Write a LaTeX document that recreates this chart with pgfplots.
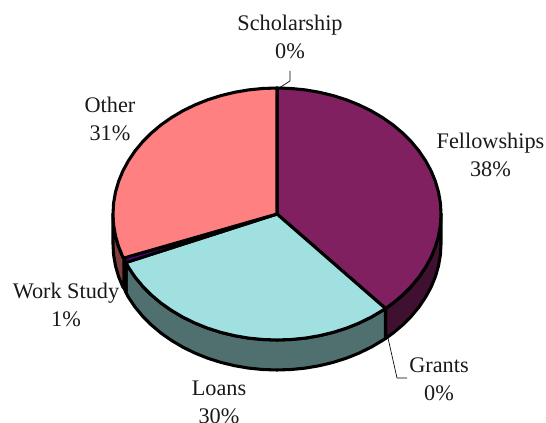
\documentclass[border=0pt]{standalone}
\usepackage{pgfplots}
\pgfplotsset{compat=1.18}
\usepackage{fontspec}
\setmainfont{Liberation Serif}
\definecolor{fel}{HTML}{802060}
\definecolor{felS}{HTML}{401030}
\definecolor{oth}{HTML}{FF8080}
\definecolor{othS}{HTML}{804040}
\definecolor{loa}{HTML}{A0E0E0}
\definecolor{loaS}{HTML}{507070}
\definecolor{wor}{HTML}{660099}
\definecolor{worS}{HTML}{330050}
\tikzset{lab/.style={font=\fontsize{16.7}{21}\selectfont,align=center,text=black!90}}
\begin{document}
\begin{tikzpicture}
\clip (0,0) rectangle (409.5pt,317.25pt);
\begin{axis}[
  at={(0,0)},anchor=south west,
  scale only axis,width=409.5pt,height=317.25pt,
  xmin=0,xmax=546,ymin=0,ymax=423,y dir=reverse,
  axis lines=none,clip=false,
  every axis plot/.append style={line width=2.3pt,draw=black,line join=round}
]
% side walls
\addplot[fill=felS] coordinates {(441,214)(440.4,225)(438.5,235.9)(435.4,246.6)(431.1,257.1)(425.6,267.2)(419,277)(411.3,286.3)(402.6,295)(393,303.1)(385.5,308.5)(385.5,338.5)(393,333.1)(402.6,325)(411.3,316.3)(419,307)(425.6,297.2)(431.1,287.1)(435.4,276.6)(438.5,265.9)(440.4,255)(441,244)} -- cycle;
\addplot[fill=loaS] coordinates {(385.5,308.5)(382.4,310.5)(371.1,317.2)(359,323.1)(346.3,328.2)(333.1,332.4)(319.4,335.7)(305.5,338.1)(291.3,339.5)(277,340)(262.7,339.5)(248.5,338.1)(234.6,335.7)(220.9,332.4)(207.7,328.2)(195,323.1)(182.9,317.2)(171.6,310.5)(161,303.1)(151.4,295)(142.7,286.3)(135,277)(128.4,267.2)(126,262.5)(126,292.5)(128.4,297.2)(135,307)(142.7,316.3)(151.4,325)(161,333.1)(171.6,340.5)(182.9,347.2)(195,353.1)(207.7,358.2)(220.9,362.4)(234.6,365.7)(248.5,368.1)(262.7,369.5)(277,370)(291.3,369.5)(305.5,368.1)(319.4,365.7)(333.1,362.4)(346.3,358.2)(359,353.1)(371.1,347.2)(382.4,340.5)(385.5,338.5)} -- cycle;
\addplot[fill=worS] coordinates {(126,262.5)(124,258)(124,288)(126,292.5)} -- cycle;
\addplot[fill=othS] coordinates {(113,214)(113.6,225)(115.5,235.9)(118.6,246.6)(122.9,257.1)(124,258)(124,288)(122.9,287.1)(118.6,276.6)(115.5,265.9)(113.6,255)(113,244)} -- cycle;
% top faces
\addplot[fill=fel] coordinates {(277,214)(277,88)(291.3,88.5)(305.5,89.9)(319.4,92.3)(333.1,95.6)(346.3,99.8)(359,104.9)(371.1,110.8)(382.4,117.5)(393,124.9)(402.6,133)(411.3,141.7)(419,151)(425.6,160.8)(431.1,170.9)(435.4,181.4)(438.5,192.1)(440.4,203)(441,214)(440.4,225)(438.5,235.9)(435.4,246.6)(431.1,257.1)(425.6,267.2)(419,277)(411.3,286.3)(402.6,295)(393,303.1)(385.5,308.5)} -- cycle;
\addplot[fill=loa] coordinates {(277,214)(385.5,308.5)(382.4,310.5)(371.1,317.2)(359,323.1)(346.3,328.2)(333.1,332.4)(319.4,335.7)(305.5,338.1)(291.3,339.5)(277,340)(262.7,339.5)(248.5,338.1)(234.6,335.7)(220.9,332.4)(207.7,328.2)(195,323.1)(182.9,317.2)(171.6,310.5)(161,303.1)(151.4,295)(142.7,286.3)(135,277)(128.4,267.2)(126,262.5)} -- cycle;
\addplot[fill=wor] coordinates {(277,214)(126,262.5)(124,258)} -- cycle;
\addplot[fill=oth] coordinates {(277,214)(124,258)(122.9,257.1)(118.6,246.6)(115.5,235.9)(113.6,225)(113,214)(113.6,203)(115.5,192.1)(118.6,181.4)(122.9,170.9)(128.4,160.8)(135,151)(142.7,141.7)(151.4,133)(161,124.9)(171.6,117.5)(182.9,110.8)(195,104.9)(207.7,99.8)(220.9,95.6)(234.6,92.3)(248.5,89.9)(262.7,88.5)(277,88)} -- cycle;
% leader lines
\addplot[line width=0.5pt] coordinates {(290,71)(290,81)(279,88)};
\addplot[line width=0.5pt] coordinates {(388,338)(397,378)(407,378)};
% labels
\node[lab] at (axis cs:290,37) {Scholarship\\0\%};
\node[lab] at (axis cs:490.5,155) {Fellowships\\38\%};
\node[lab] at (axis cs:110,119) {Other\\31\%};
\node[lab] at (axis cs:66,305) {Work Study\\1\%};
\node[lab] at (axis cs:439,379) {Grants\\0\%};
\node[lab] at (axis cs:219,402) {Loans\\30\%};
\end{axis}
\end{tikzpicture}
\end{document}
